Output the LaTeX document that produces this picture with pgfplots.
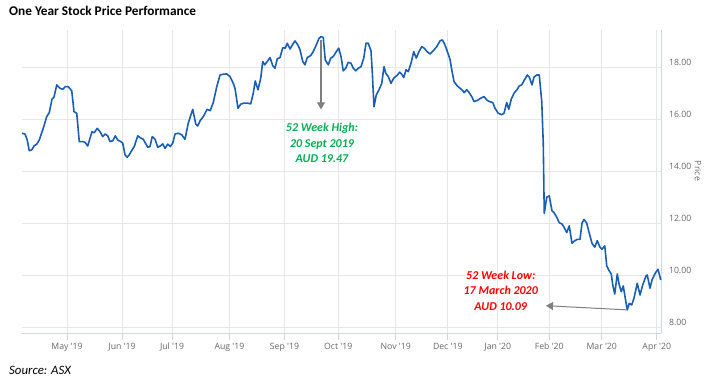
\documentclass[border=0pt]{standalone}
\usepackage{pgfplots}
\pgfplotsset{compat=1.18}
\usetikzlibrary{arrows.meta}
\usepackage{fontspec}
\setmainfont{Carlito}
\newfontfamily\tickfont{Open Sans}
\definecolor{linecol}{RGB}{24,94,181}
\definecolor{gridcol}{RGB}{230,230,230}
\definecolor{axiscol}{RGB}{204,214,235}
\definecolor{labcol}{RGB}{102,102,102}
\definecolor{arrowcol}{RGB}{127,127,127}
\definecolor{hicol}{RGB}{0,176,80}
\definecolor{locol}{RGB}{255,0,0}
\begin{document}
\begin{tikzpicture}
\useasboundingbox (0pt,0pt) rectangle (713pt,381pt);
\begin{axis}[
  at={(22pt,48pt)}, anchor=south west,
  scale only axis, width=639pt, height=303pt,
  xmin=0, xmax=255.6, ymin=7.78, ymax=19.43,
  axis x line*=bottom, axis y line*=right,
  axis line style={axiscol, line width=1pt},
  xtick={18,40,60,83,105,126.5,149.5,170.3,190.3,210.9,231.9,253.9},
  xticklabels={May '19,Jun '19,Jul '19,Aug '19,Sep '19,Oct '19,Nov '19,Dec '19,Jan '20,Feb '20,Mar '20,Apr '20},
  ytick={8,10,12,14,16,18},
  yticklabels={8.00,10.00,12.00,14.00,16.00,18.00},
  tick align=outside,
  xtick style={axiscol, line width=1pt},
  major tick length=6.5pt,
  ytick style={draw=none},
  ticklabel style={font=\tickfont\fontsize{8.7}{10}\selectfont, text=labcol},
  yticklabel style={yshift=4.5pt, xshift=-2pt},
  grid=major, grid style={gridcol, line width=1pt},
  clip=false,
]
\addplot[linecol, line width=1.6pt, line join=round] coordinates {
(0,15.46)(1.2,15.43)(2.1,15.20)(2.9,14.79)(3.9,14.82)(4.8,14.97)(5.9,15.04)(6.9,15.20)
(8.5,15.65)(9.9,16.10)(10.9,16.25)(12.0,16.77)(12.8,16.85)(13.9,17.32)(15.2,17.19)(16.3,17.15)
(17.3,17.25)(18.5,17.25)(19.9,17.09)(20.8,16.29)(21.9,16.23)(22.9,15.14)(24.5,15.14)(25.3,15.10)
(26.3,14.97)(27.2,15.27)(28.0,15.52)(28.9,15.48)(30.1,15.65)(31.2,15.52)(32.3,15.33)(33.3,15.43)
(34.3,15.36)(35.2,15.14)(36.3,15.17)(37.3,15.36)(38.3,15.20)(39.5,15.14)(40.3,15.08)(41.2,14.63)
(42.1,14.54)(42.9,14.63)(43.6,14.75)(44.9,14.95)(46.3,15.36)(47.6,15.27)(48.5,15.23)(50.3,14.92)
(51.2,14.95)(52.1,15.33)(53.2,15.23)(54.3,14.92)(55.3,14.97)(56.3,15.05)(57.2,14.88)(58.3,15.04)
(59.3,14.95)(60.3,15.08)(61.2,15.43)(62.5,15.46)(63.9,15.40)(65.2,15.23)(66.5,15.85)(68.3,16.38)
(69.5,15.82)(70.3,15.74)(71.3,15.95)(72.7,16.13)(74.0,16.38)(75.3,16.33)(76.5,16.64)(77.9,17.25)
(79.2,17.70)(80.5,17.73)(81.9,17.74)(83.2,17.64)(84.5,17.38)(85.2,17.19)(86.4,16.42)(87.5,16.58)
(88.8,16.62)(90.1,16.62)(91.5,16.59)(92.5,17.00)(93.3,17.47)(94.4,17.13)(95.5,17.58)(96.3,18.22)
(97.1,18.09)(98.1,18.22)(99.2,18.37)(100.3,18.06)(101.2,17.96)(102.1,18.32)(103.2,18.37)(104.3,18.75)
(105.3,18.73)(106.1,18.92)(107.2,18.70)(108.3,18.88)(109.2,19.01)(110.3,18.86)(111.2,18.67)(112.3,18.22)
(113.2,18.09)(114.1,18.37)(115.5,18.45)(116.5,18.60)(117.6,18.83)(118.7,19.09)(119.6,19.18)(120.5,19.14)
(121.3,18.28)(122.5,18.09)(123.5,18.35)(124.5,18.41)(125.6,18.58)(126.7,18.73)(127.6,18.41)(128.5,17.86)
(129.5,17.96)(130.5,18.19)(131.6,18.15)(132.5,17.96)(133.5,17.86)(134.5,17.96)(135.6,18.02)(136.7,18.35)
(137.6,18.92)(138.5,18.92)(139.6,18.63)(140.1,17.83)(140.8,16.48)(141.7,16.93)(142.8,17.13)(143.9,17.38)
(144.8,18.02)(145.5,17.77)(146.5,17.64)(147.6,17.38)(148.7,17.58)(150.0,17.68)(151.1,17.81)(151.9,17.73)
(152.7,17.60)(153.6,17.90)(154.5,17.83)(155.6,18.15)(156.7,18.60)(157.7,18.35)(158.8,18.60)(159.9,18.79)
(160.9,18.73)(162.0,18.60)(163.2,18.51)(164.5,18.63)(165.9,18.79)(167.2,19.01)(168.1,19.05)(168.9,18.92)
(169.9,18.67)(171.2,18.30)(171.9,17.90)(172.8,17.45)(174.1,17.28)(175.2,17.19)(176.3,17.10)(176.8,17.02)
(177.9,17.13)(178.9,17.02)(180.0,16.85)(180.8,16.68)(182.1,16.72)(183.5,16.81)(184.8,16.87)(185.9,16.74)
(186.9,16.68)(188.3,16.64)(189.2,16.42)(190.5,16.23)(191.9,16.17)(192.8,16.23)(193.9,16.64)(194.7,16.38)
(195.7,16.77)(196.8,17.00)(198.1,17.15)(198.9,17.28)(199.9,17.32)(200.8,17.48)(202.1,17.70)(202.9,17.62)
(204.0,17.32)(204.8,17.62)(205.9,17.70)(206.9,17.70)(207.9,16.68)(208.5,15.08)(208.9,12.38)(209.9,13.00)
(210.9,13.05)(212.0,12.48)(212.8,12.41)(213.9,12.23)(214.9,12.02)(216.0,11.97)(216.8,11.85)(217.9,11.64)
(218.9,11.90)(220.0,11.23)(221.1,11.33)(222.1,11.38)(223.2,11.38)(224.0,12.00)(224.8,12.15)(225.9,12.00)
(226.9,11.62)(228.0,11.23)(229.1,11.08)(230.1,11.33)(231.2,11.08)(232.0,11.00)(233.1,11.13)(233.9,10.36)
(234.7,10.20)(235.7,10.05)(236.3,9.63)(237.1,9.28)(238.1,10.05)(238.9,9.63)(239.7,9.37)(240.5,9.59)
(241.3,9.12)(242.1,8.67)(242.9,8.92)(243.9,8.86)(244.8,9.12)(246.1,9.69)(247.2,9.24)(248.3,9.63)
(249.6,9.97)(250.1,10.01)(251.2,9.50)(252.0,9.82)(253.3,10.08)(254.4,10.23)(255.5,9.82)
};
\draw[arrowcol, line width=1.3pt, -{Triangle[width=8pt,length=7pt]}] (axis cs:119.6,19.05) -- (axis cs:119.6,16.38);
\node[text=hicol, align=center, font=\bfseries\itshape\fontsize{12}{15.5}\selectfont] at (axis cs:120,15.08) {52 Week High:\\20 Sept 2019\\AUD 19.47};
\draw[arrowcol, line width=1pt, -{Triangle[width=8pt,length=7pt]}] (axis cs:241.9,8.67) -- (axis cs:209.6,8.83);
\node[text=locol, align=center, font=\bfseries\itshape\fontsize{12}{15.5}\selectfont] at (axis cs:191.5,9.41) {52 Week Low:\\17 March 2020\\AUD 10.09};
\end{axis}
\node[anchor=base west, inner sep=0pt, font=\bfseries\fontsize{13.3}{15}\selectfont] at (9pt,365pt) {One Year Stock Price Performance};
\node[anchor=base west, inner sep=0pt, font=\itshape\fontsize{12.8}{14}\selectfont] at (9pt,7pt) {Source: ASX};
\node[rotate=-90, text=labcol, font=\tickfont\fontsize{8.7}{10}\selectfont] at (698pt,210pt) {Price};
\end{tikzpicture}
\end{document}
